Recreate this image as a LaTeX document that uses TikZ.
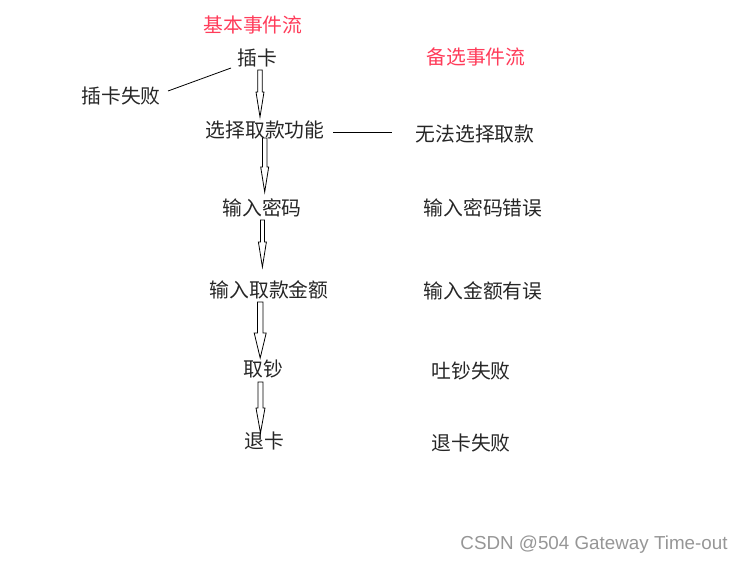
\documentclass[tikz,border=0pt]{standalone}
\usepackage{fontspec}
\newfontfamily\cjk{Noto Sans CJK SC}
\newfontfamily\wmfont{Liberation Sans}
\usetikzlibrary{calc}
\definecolor{flowred}{RGB}{255,60,90}
\definecolor{wmgray}{RGB}{150,150,150}
\tikzset{
  lbl/.style={font=\cjk\fontsize{19.8}{19.8}\selectfont, inner sep=0pt, text=black!85},
  redlbl/.style={lbl, text=flowred},
  arrline/.style={draw=black, line width=0.8pt, fill=white, line join=miter},
  thinline/.style={draw=black, line width=0.8pt}
}
\newcommand\barrow[4]{% start, end, shaft half width, head half width
  \draw[arrline] let \p1=(#1), \p2=(#2) in
    (\x1-#3pt,\y1) -- (\x1+#3pt,\y1) -- (\x1+#3pt,\y2+25pt) -- (\x1+#4pt,\y2+25pt)
    -- (\x2,\y2) -- (\x1-#4pt,\y2+25pt) -- (\x1-#3pt,\y2+25pt) -- cycle;}
\begin{document}
\begin{tikzpicture}[x=1pt,y=-1pt]
\useasboundingbox (0,0) rectangle (744,565);
% titles
\node[redlbl] (basic) at (253,25) {基本事件流};
\node[redlbl] (alt) at (476,57) {备选事件流};
% basic flow
\node[lbl] (ka) at (257,58) {插卡};
\node[lbl] (xz) at (265,130) {选择取款功能};
\node[lbl] (mm) at (262,208) {输入密码};
\node[lbl] (je) at (269,290) {输入取款金额};
\node[lbl] (qc) at (263,369) {取钞};
\node[lbl] (tk) at (264,441) {退卡};
% alternative flow
\node[lbl] (kasb) at (121,96) {插卡失败};
\node[lbl] (wf) at (475,134) {无法选择取款};
\node[lbl] (mmcw) at (483,208) {输入密码错误};
\node[lbl] (jecw) at (483,291) {输入金额有误};
\node[lbl] (tcsb) at (471,371) {吐钞失败};
\node[lbl] (tksb) at (471,443) {退卡失败};
% connector end points
\coordinate (a1s) at (260,70);   \coordinate (a1e) at (260,117);
\coordinate (a2s) at (264.7,138); \coordinate (a2e) at (264.7,192);
\coordinate (a3s) at (262.4,220); \coordinate (a3e) at (262.4,267);
\coordinate (a4s) at (260.2,302); \coordinate (a4e) at (260.2,358);
\coordinate (a5s) at (260.5,382); \coordinate (a5e) at (260.5,433);
\barrow{a1s}{a1e}{2.2}{4}
\barrow{a2s}{a2e}{2.2}{4}
\barrow{a3s}{a3e}{2}{4}
\barrow{a4s}{a4e}{2.7}{6}
\barrow{a5s}{a5e}{2.5}{4.5}
% plain lines
\coordinate (l1a) at (168,91); \coordinate (l1b) at (231,68);
\coordinate (l2a) at (333,132); \coordinate (l2b) at (392,132);
\draw[thinline] (l1a) -- (l1b);
\draw[thinline] (l2a) -- (l2b);
% watermark
\node[font=\wmfont\fontsize{18.8}{18.8}\selectfont, text=wmgray, inner sep=0pt] (wm) at (594,545) {CSDN @504 Gateway Time-out};
\end{tikzpicture}
\end{document}
